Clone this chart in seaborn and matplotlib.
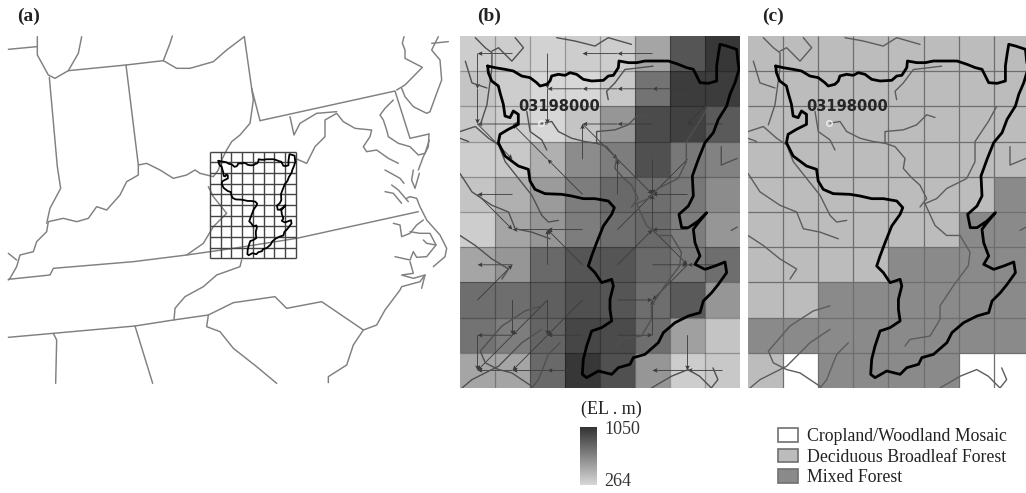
import numpy as np
import matplotlib
matplotlib.use("Agg")
import matplotlib.pyplot as plt
import seaborn as sns
from matplotlib.colors import ListedColormap, LinearSegmentedColormap
from matplotlib.patches import Patch

W, H = 1026, 493

# elevation (m) per grid cell, top row first
elevation = [
    [312, 312, 288, 312, 312, 502, 883, 1026],
    [359, 312, 264, 264, 335, 740, 1002, 1002],
    [335, 312, 264, 359, 573, 930, 978, 859],
    [312, 335, 454, 621, 692, 907, 716, 668],
    [359, 454, 550, 692, 788, 764, 716, 621],
    [312, 502, 573, 692, 764, 788, 692, 573],
    [502, 573, 788, 883, 883, 788, 716, 764],
    [764, 764, 835, 907, 883, 764, 859, 573],
    [740, 692, 811, 954, 930, 764, 526, 359],
    [502, 502, 788, 1026, 907, 573, 312, 335],
]

# 0 cropland, 1 deciduous, 2 mixed
landcover = [
    [1, 1, 1, 1, 1, 1, 1, 1],
    [1, 1, 1, 1, 1, 1, 1, 1],
    [1, 1, 1, 1, 1, 1, 1, 1],
    [1, 1, 1, 1, 1, 1, 1, 1],
    [1, 1, 1, 1, 1, 1, 1, 2],
    [1, 1, 1, 1, 1, 1, 2, 2],
    [1, 1, 1, 1, 2, 2, 2, 2],
    [1, 1, 2, 2, 2, 2, 2, 2],
    [2, 2, 2, 2, 2, 2, 2, 2],
    [1, 0, 2, 2, 2, 2, 0, 0],
]
landcover_names = ["Cropland/Woodland Mosaic", "Deciduous Broadleaf Forest", "Mixed Forest"]
landcover_colors = ["#ffffff", "#bcbcbc", "#8a8a8a"]
elev_ticks = [264, 1050]
gauge_id = "03198000"

# basin outline
basin = [(98,120),(120,125),(150,130),(175,135),(200,150),(225,155),(245,170),(255,180),(275,175),(285,165),
         (290,150),(310,145),(330,148),(345,140),(365,145),(385,160),(410,165),(445,163),(460,150),(475,148),
         (490,125),(492,105),(520,110),(545,110),(570,105),(600,105),(640,105),(670,115),(695,125),(715,130),
         (725,150),(735,170),(760,172),(785,165),(785,120),(790,85),(795,55),(815,60),(845,70),(848,100),
         (852,130),(840,170),(825,205),(815,240),(790,280),(775,320),(750,350),(730,400),(712,450),(715,510),
         (700,540),(672,565),(680,605),(700,605),(730,585),(755,560),(730,590),(715,610),(720,650),(735,690),
         (720,715),(750,730),(780,720),(810,708),(815,740),(790,775),(770,800),(745,825),(735,860),(700,870),
         (660,890),(625,920),(610,950),(570,985),(535,995),(525,1015),(490,1025),(470,1045),(430,1035),(395,1055),
         (382,1045),(385,1000),(395,960),(410,915),(440,905),(470,885),(465,850),(465,820),(475,780),(470,760),
         (440,770),(420,740),(400,720),(410,690),(425,650),(445,600),(470,565),(478,545),(460,525),(420,518),
         (385,518),(350,510),(320,505),(270,503),(240,490),(225,465),(220,430),(190,420),(150,390),(130,350),
         (135,325),(160,310),(190,295),(190,265),(175,255),(165,275),(150,270),(145,235),(135,200),(130,180),
         (110,165),(100,140),(98,120)]

# streams
streams = [
    [(540,545),(560,520),(540,480),(515,458),(490,430),(495,400),(465,365),(435,355),(400,350),(360,340),(320,320),(300,290),(270,295)],
    [(585,278),(560,270),(530,300),(490,315),(435,320),(435,355)],
    [(770,245),(745,290),(705,350),(705,410),(680,460),(620,490),(590,520),(555,535)],
    [(555,535),(585,600),(620,630),(660,630),(690,680),(685,720),(640,780),(600,840),(600,880),(570,930),(510,940),(495,960)],
    [(605,125),(520,135),(490,175),(465,200),(470,225)],
    [(225,260),(235,320),(270,345),(285,375)],
    [(24,320),(70,305),(110,340),(140,360),(160,410),(200,460),(240,510),(270,570),(290,590),(320,585)],
    [(24,445),(60,500),(120,540),(170,560),(190,610),(240,620),(295,640)],
    [(24,630),(70,660),(120,700),(170,730),(150,760)],
    [(270,840),(220,855),(150,900),(85,975),(100,1010),(140,1030),(180,1040),(240,1080)],
    [(270,910),(210,950),(140,1020),(60,1060),(30,1085)],
    [(325,950),(290,985),(260,1060),(240,1085)],
    [(600,1085),(660,1050),(710,1030),(745,1050),(780,1085),(800,1060),(785,1025)],
    [(810,365),(810,420),(858,400)],
    [(70,40),(100,70),(120,85),(120,130),(105,240),(85,300)],
    [(190,40),(215,70),(180,110),(140,70),(120,80)],
    [(40,110),(60,175),(105,190)],
    [(315,40),(370,50),(430,65),(470,40),(540,60)],
    [(24,340),(50,350)],
    [(858,605),(840,615)],
]

# flow direction network of panel b: from col, from row, to col, to row
flow = [(1,0,0,0),(5,0,4,0),(4,0,3,0),(6,1,5,1),(5,1,4,1),(4,1,3,1),(3,1,2,1),(5,2,4,2),(4,2,3,2),(2,2,1,2),
        (1,2,0,2),(7,2,6,2),(1,4,0,4),(3,5,2,5),(2,5,1,5),(1,6,0,6),(5,6,6,6),(7,6,6,6),(6,4,5,4),(6,5,5,5),
        (4,7,5,7),(1,8,0,8),(3,8,2,8),(4,8,5,8),(3,9,2,9),(2,9,1,9),(1,9,0,9),(7,9,6,9),(6,9,5,9),
        (0,0,0,1),(0,1,0,2),(2,0,2,1),(2,1,2,2),(3,3,3,2),(4,4,4,3),(5,3,5,4),(5,5,5,4),(2,6,2,5),(1,7,1,8),
        (0,8,0,9),(2,7,2,8),(5,8,5,7),(6,8,6,9),(0,7,1,6),(7,1,6,2),(3,4,2,3),(2,3,1,2),(3,2,4,3),(4,3,5,4),
        (5,5,6,6),(4,5,5,4),(4,6,5,5),(6,6,5,7),(6,3,5,4),(3,7,2,8),(2,7,1,8),(1,8,0,9),(2,8,1,9),(0,2,1,3),
        (0,4,1,5),(3,6,2,5)]

# state lines and coasts of panel a
states = [
    [(25,148),(110,140)],
    [(112,110),(112,165),(145,225),(165,235),(205,212),(235,160),(245,110)],
    [(205,212),(378,195),(490,182),(510,130),(517,108)],
    [(490,182),(530,205),(570,205),(640,185),(680,150),(733,110)],
    [(733,110),(755,265),(780,362)],
    [(755,265),(760,300),(750,370),(720,405),(695,425),(680,450),(665,480),(655,510),(640,530),(600,520),(585,510),
     (560,525),(520,535),(480,510),(440,490),(415,495),(415,525),(380,545),(360,585),(320,630),(290,620),(265,655),
     (230,665),(190,655),(145,665),(140,695),(110,725),(100,755),(60,765),(50,800),(30,835),(25,840)],
    [(148,232),(172,500),(182,565),(150,625),(140,670)],
    [(378,195),(415,495)],
    [(25,838),(150,825),(160,805),(400,785),(560,765),(700,745),(890,715),(1255,635)],
    [(560,765),(610,730),(640,680),(680,640),(640,590),(625,560)],
    [(885,475),(920,490),(945,440),(975,410),(975,360),(1010,340),(1030,365),(1065,385),(1115,390),(1110,410),
     (1090,440),(1100,455),(1130,450),(1165,475),(1195,490)],
    [(780,362),(1185,273),(1230,415),(1287,402)],
    [(1190,270),(1215,255),(1267,202),(1215,175),(1215,150),(1207,130),(1212,110)],
    [(1315,110),(1295,150),(1320,180),(1325,240),(1310,280),(1290,335),(1280,340),(1240,320),(1215,290),(1205,265)],
    [(1295,130),(1345,125)],
    [(870,350),(882,405),(900,370),(950,340),(1010,335)],
    [(1180,300),(1155,325),(1140,345),(1150,360),(1160,390),(1165,410),(1195,430),(1230,440),(1255,465),(1275,460),(1288,420)],
    [(1287,402),(1285,440),(1270,470),(1255,510)],
    [(1155,510),(1200,535),(1212,550)],
    [(1240,510),(1235,540),(1245,565),(1258,520)],
    [(1175,555),(1195,570),(1225,605)],
    [(1155,575),(1180,580),(1205,610)],
    [(1220,595),(1230,590),(1250,595),(1260,620),(1280,660),(1320,705),(1340,745),(1335,770),(1300,800)],
    [(1180,670),(1200,675),(1205,710),(1230,700),(1250,675),(1270,660)],
    [(1230,695),(1260,700),(1290,700),(1308,735),(1280,730),(1270,720)],
    [(1185,770),(1230,780),(1240,755),(1250,772),(1280,770),(1308,735)],
    [(1230,785),(1240,820),(1205,825),(1240,835),(1275,825),(1265,865)],
    [(1275,825),(1260,845),(1205,860),(1200,870),(1155,930),(1130,975),(1090,990),(1060,1035),(1040,1095),(985,1130),(985,1148)],
    [(1090,990),(965,905),(860,925),(825,890),(700,908),(625,945),(520,960),(405,978),(160,1000),(25,1012)],
    [(725,780),(720,800),(650,825),(610,860),(555,890),(525,925),(522,960)],
    [(625,945),(620,980),(660,995),(700,1045),(770,1100),(830,1150)],
    [(405,978),(458,1150)],
    [(160,1000),(170,1020),(167,1150)],
    [(25,760),(50,780)],
]


def px_axes(fig, x0, y0, x1, y1):
    return fig.add_axes([x0 / W, 1 - y1 / H, (x1 - x0) / W, (y1 - y0) / H])


def b_cells(pts):
    a = np.array(pts, dtype=float)
    return (a[:, 0] - 15) / 105.0, (a[:, 1] - 30) / 105.6


def c_cells(pts):
    a = np.array(pts, dtype=float)
    return (a[:, 0] - 24) / 105.3, (a[:, 1] - 35) / 105.0


sns.set_theme(style="white")
plt.rcParams["font.family"] = ["Liberation Serif", "DejaVu Sans"]

fig = plt.figure(figsize=(W / 100, H / 100), dpi=100)

# (a) location map
ax_a = px_axes(fig, 0, 0, 450, 400)
ax_a.set_xlim(0, 1350)
ax_a.set_ylim(1200, 0)
ax_a.axis("off")
for line in states:
    pts = np.array(line)
    ax_a.plot(pts[:, 0], pts[:, 1], color="#808080", lw=1.05, solid_joinstyle="round")
xs = np.linspace(630, 887, 9)
ys = np.linspace(455, 775, 11)
ax_a.vlines(xs, 455, 775, color="#444444", lw=1.0)
ax_a.hlines(ys, 630, 887, color="#444444", lw=1.0)
bx, by = b_cells(basin)
ax_a.plot(630 + bx * 32.1, 455 + by * 32, color="black", lw=1.3)

# (b) elevation
elev_cmap = LinearSegmentedColormap.from_list("elev", ["#d7d7d7", "#323232"])
ax_b = px_axes(fig, 460, 36, 740, 388)
cax = px_axes(fig, 580, 427, 597, 485)
sns.heatmap(np.array(elevation), ax=ax_b, cmap=elev_cmap, vmin=elev_ticks[0], vmax=elev_ticks[1],
            xticklabels=False, yticklabels=False, cbar_ax=cax, cbar_kws={"ticks": elev_ticks})
ax_b.hlines(np.arange(1, 10), 0, 8, color="black", lw=0.9, alpha=0.28)
ax_b.vlines(np.arange(1, 8), 0, 10, color="black", lw=0.9, alpha=0.28)
fl = np.array(flow, dtype=float)
ax_b.quiver(fl[:, 0] + 0.5, fl[:, 1] + 0.5, fl[:, 2] - fl[:, 0], fl[:, 3] - fl[:, 1],
            angles="xy", scale_units="xy", scale=1, color="#3a3a3a", width=0.003,
            headwidth=5.5, headlength=6, headaxislength=5, zorder=3)
cax.tick_params(length=0)
cax.yaxis.set_ticklabels([])
fig.text(604 / W, 1 - 430 / H, "1050", fontsize=13, color="#333333", va="center")
fig.text(604 / W, 1 - 481 / H, "264", fontsize=13, color="#333333", va="center")
fig.text(611 / W, 1 - 409 / H, "(EL . m)", fontsize=13, color="#222222", ha="center", va="center")

# (c) land cover
ax_c = px_axes(fig, 748, 36, 1026, 388)
sns.heatmap(np.array(landcover), ax=ax_c, cmap=ListedColormap(landcover_colors), vmin=-0.5, vmax=2.5,
            xticklabels=False, yticklabels=False, cbar=False)
ax_c.hlines(np.arange(1, 10), 0, 8, color="#6e6e6e", lw=0.9)
ax_c.vlines(np.arange(1, 8), 0, 10, color="#6e6e6e", lw=0.9)
ax_c.set_xlim(0, 7.92)

for ax, stream_color in [(ax_b, "#505050"), (ax_c, "#5c5c5c")]:
    for s in streams:
        sx, sy = c_cells(s)
        ax.plot(sx, sy, color=stream_color, lw=1.0, zorder=4)
    bx, by = b_cells(basin)
    ax.plot(bx, by, color="black", lw=2.0, zorder=5, solid_joinstyle="round")
    ax.text(1.67, 1.99, gauge_id, fontsize=10.5, fontweight="bold", family="DejaVu Sans",
            color="#262626", va="center", zorder=6)
    ax.plot(2.31, 2.48, "o", ms=4, mfc="none", mec="#eeeeee", mew=1.0, zorder=6)
    ax.tick_params(length=0)

# panel letters
for label, x in [("(a)", 17), ("(b)", 477), ("(c)", 762)]:
    fig.text(x / W, 1 - 16 / H, label, fontsize=14, fontweight="bold", color="#222222", va="center")

# land cover legend
handles = [Patch(facecolor=c, edgecolor="#707070", lw=1.2) for c in landcover_colors]
fig.legend(handles, landcover_names, loc="upper left", bbox_to_anchor=(778 / W, 1 - 428 / H),
           frameon=False, fontsize=12.8, handlelength=1.1, handleheight=0.8, handletextpad=0.55,
           labelspacing=0.2, borderpad=0, borderaxespad=0, labelcolor="#222222")

fig.savefig("out.png", dpi=100)
